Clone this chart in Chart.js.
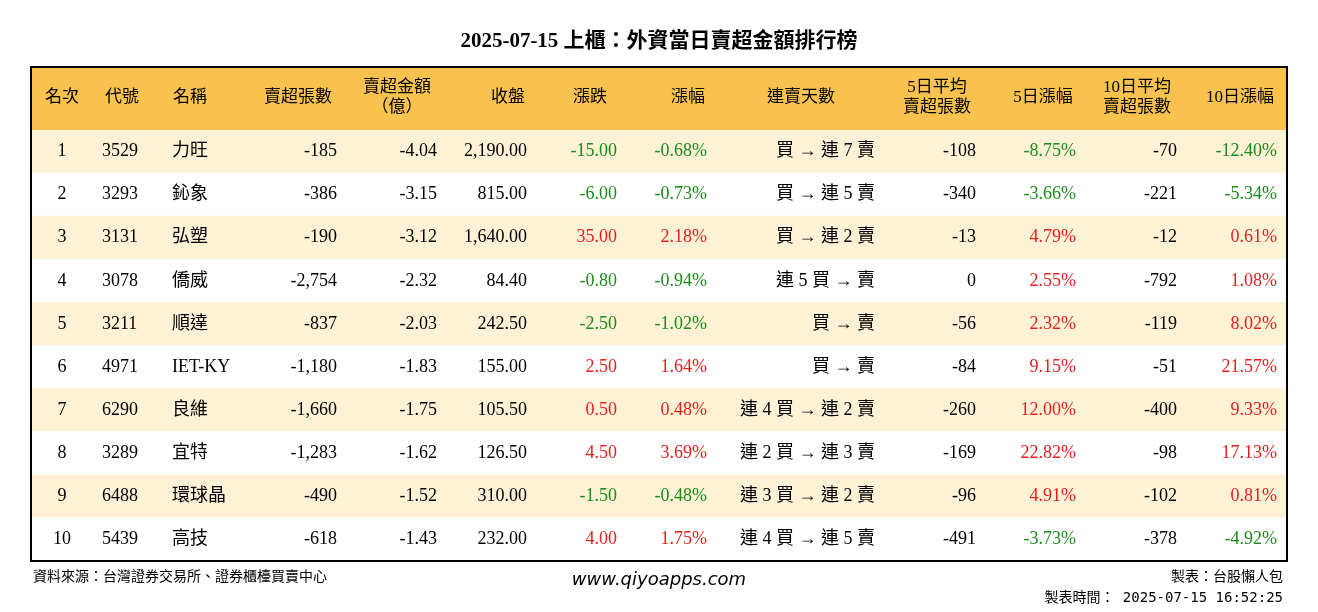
<!DOCTYPE html>
<html><head><meta charset="utf-8">
<script src="https://cdn.jsdelivr.net/npm/chart.js@4"></script>
<style>body{margin:0;background:#fff}#wrap{width:1318px;height:612px}</style>
</head><body><div id="wrap"><canvas id="c" width="1318" height="612"></canvas></div>
<script>
const ranks = ['1','2','3','4','5','6','7','8','9','10'];
const codes = ['3529','3293','3131','3078','3211','4971','6290','3289','6488','5439'];
const names = ['力旺','鈊象','弘塑','僑威','順達','IET-KY','良維','宜特','環球晶','高技'];
const netLots = [-185,-386,-190,-2754,-837,-1180,-1660,-1283,-490,-618];
const netAmt = [-4.04,-3.15,-3.12,-2.32,-2.03,-1.83,-1.75,-1.62,-1.52,-1.43];
const closes = [2190,815,1640,84.4,242.5,155,105.5,126.5,310,232];
const changes = [-15,-6,35,-0.8,-2.5,2.5,0.5,4.5,-1.5,4];
const changePct = [-0.68,-0.73,2.18,-0.94,-1.02,1.64,0.48,3.69,-0.48,1.75];
const streaks = ['買 → 連 7 賣','買 → 連 5 賣','買 → 連 2 賣','連 5 買 → 賣','買 → 賣','買 → 賣','連 4 買 → 連 2 賣','連 2 買 → 連 3 賣','連 3 買 → 連 2 賣','連 4 買 → 連 5 賣'];
const avg5 = [-108,-340,-13,0,-56,-84,-260,-169,-96,-491];
const pct5 = [-8.75,-3.66,4.79,2.55,2.32,9.15,12.00,22.82,4.91,-3.73];
const avg10 = [-70,-221,-12,-792,-119,-51,-400,-98,-102,-378];
const pct10 = [-12.40,-5.34,0.61,1.08,8.02,21.57,9.33,17.13,0.81,-4.92];

const headers = [['名次'],['代號'],['名稱'],['賣超張數'],['賣超金額','（億）'],['收盤'],['漲跌'],['漲幅'],['連賣天數'],['5日平均','賣超張數'],['5日漲幅'],['10日平均','賣超張數'],['10日漲幅']];
const headerX = [62,122,190,298,397,508,590,688,801,937,1043,1137,1240];

const GREEN = '#1a8c1a', RED = '#e61e1e';
const FONT = '"Liberation Serif","Noto Sans CJK TC",serif';
const fmt = (v, d) => v.toLocaleString('en-US', {minimumFractionDigits: d, maximumFractionDigits: d});
const sgn = v => v < 0 ? GREEN : v > 0 ? RED : '#000';

const cols = [
  [i => ranks[i], 62, 'center', () => '#000'],
  [i => codes[i], 102, 'left', () => '#000'],
  [i => names[i], 172, 'left', () => '#000'],
  [i => fmt(netLots[i], 0), 337, 'right', () => '#000'],
  [i => fmt(netAmt[i], 2), 437, 'right', () => '#000'],
  [i => fmt(closes[i], 2), 527, 'right', () => '#000'],
  [i => fmt(changes[i], 2), 617, 'right', i => sgn(changes[i])],
  [i => fmt(changePct[i], 2) + '%', 707, 'right', i => sgn(changePct[i])],
  [i => streaks[i], 875, 'right', () => '#000'],
  [i => fmt(avg5[i], 0), 976, 'right', () => '#000'],
  [i => fmt(pct5[i], 2) + '%', 1076, 'right', i => sgn(pct5[i])],
  [i => fmt(avg10[i], 0), 1177, 'right', () => '#000'],
  [i => fmt(pct10[i], 2) + '%', 1277, 'right', i => sgn(pct10[i])],
];

const tablePlugin = {
  id: 'table',
  afterDatasetsDraw(chart) {
    const ctx = chart.ctx, x = chart.scales.x, y = chart.scales.y, a = chart.chartArea;
    ctx.save();
    ctx.textBaseline = 'middle';
    ctx.fillStyle = '#000';
    ctx.font = 'bold 21px ' + FONT;
    ctx.textAlign = 'center';
    ctx.fillText('2025-07-15 上櫃：外資當日賣超金額排行榜', 659, 42);
    const hTop = 67;
    ctx.fillStyle = '#f9c24e';
    ctx.fillRect(a.left, hTop, a.right - a.left, a.top - hTop);
    ctx.fillStyle = '#000';
    ctx.font = '17px ' + FONT;
    headers.forEach((h, j) => {
      const cx = x.getPixelForValue(headerX[j]);
      if (h.length === 1) ctx.fillText(h[0], cx, 98);
      else { ctx.fillText(h[0], cx, 88); ctx.fillText(h[1], cx, 108); }
    });
    ctx.font = '18px ' + FONT;
    ranks.forEach((r, i) => {
      const cy = y.getPixelForValue(i);
      cols.forEach(([get, cx, al, col]) => {
        ctx.textAlign = al;
        ctx.fillStyle = col(i);
        ctx.fillText(get(i), x.getPixelForValue(cx), cy);
      });
    });
    ctx.strokeStyle = '#000';
    ctx.lineWidth = 2;
    ctx.strokeRect(a.left, hTop, a.right - a.left, a.bottom - hTop);
    ctx.fillStyle = '#000';
    ctx.font = '14px "DejaVu Sans Mono","Noto Sans CJK TC",monospace';
    ctx.textAlign = 'left';
    ctx.fillText('資料來源：台灣證券交易所、證券櫃檯買賣中心', 33, 577);
    ctx.textAlign = 'right';
    ctx.fillText('製表：台股懶人包', 1283, 577);
    ctx.fillText('製表時間： 2025-07-15 16:52:25', 1283, 598);
    ctx.textAlign = 'center';
    ctx.font = 'italic 18px "DejaVu Sans",sans-serif';
    ctx.fillText('www.qiyoapps.com', 659, 580);
    ctx.restore();
  }
};

new Chart(document.getElementById('c'), {
  type: 'bar',
  data: {
    labels: ranks,
    datasets: [{
      data: ranks.map(() => [31, 1287]),
      backgroundColor: ranks.map((r, i) => i % 2 === 0 ? '#fdf1d6' : '#ffffff'),
      barPercentage: 1, categoryPercentage: 1, borderWidth: 0
    }]
  },
  options: {
    indexAxis: 'y',
    responsive: false,
    devicePixelRatio: 1,
    animation: false,
    layout: { padding: { left: 31, right: 31, top: 130, bottom: 51 } },
    plugins: { legend: { display: false }, tooltip: { enabled: false } },
    scales: {
      x: { type: 'linear', min: 31, max: 1287, display: false },
      y: { type: 'category', display: false, offset: true }
    }
  },
  plugins: [tablePlugin]
});
</script></body></html>
